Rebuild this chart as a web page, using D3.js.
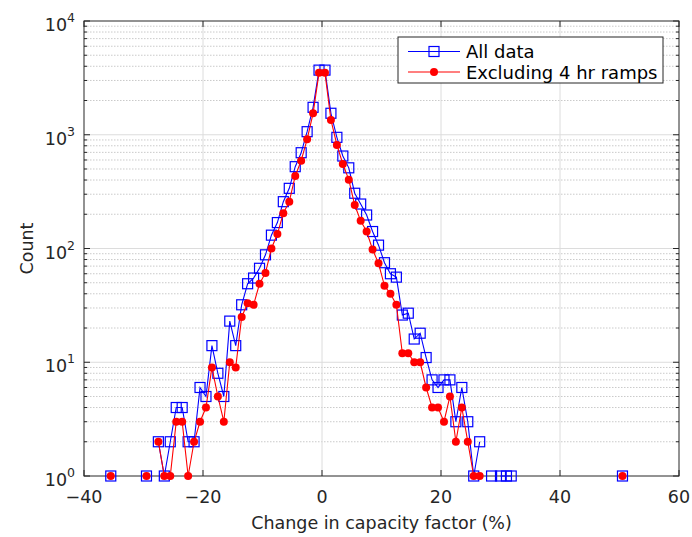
<!DOCTYPE html>
<html>
<head>
<meta charset="utf-8">
<script src="https://cdn.jsdelivr.net/npm/d3@7"></script>
<style>
  body { margin: 0; background: #fff; }
  svg { display: block; font-family: "DejaVu Sans", sans-serif; }
</style>
</head>
<body>
<svg id="chart" width="692" height="537"></svg>
<script>
// bin centres (%) and counts
const allBins = [-35.5, -29.5, -27.5, -26.5, -25.5, -24.5, -23.5, -22.5, -21.5, -20.5, -19.5, -18.5, -17.5, -16.5,
  -15.5, -14.5, -13.5, -12.5, -11.5, -10.5, -9.5, -8.5, -7.5, -6.5, -5.5, -4.5, -3.5, -2.5, -1.5, -0.5,
  0.5, 1.5, 2.5, 3.5, 4.5, 5.5, 6.5, 7.5, 8.5, 9.5, 10.5, 11.5, 12.5, 13.5, 14.5, 15.5, 16.5, 17.5,
  18.5, 19.5, 20.5, 21.5, 22.5, 23.5, 24.5, 25.5, 26.5, 28.5, 30, 31, 31.8, 50.5];
const allCounts = [1, 1, 2, 1, 2, 4, 4, 2, 2, 6, 5, 14, 8, 5,
  23, 14, 32, 49, 55, 67, 88, 131, 169, 258, 338, 524, 695, 1064, 1742, 3700,
  3700, 1545, 949, 650, 512, 306, 246, 197, 141, 107, 75, 60, 56, 26, 27, 16, 18, 11,
  7, 6, 7, 7, 3, 6, 3, 1, 2, 1, 1, 1, 1, 1];

const exclBins = [-35.5, -29.5, -27.5, -26.5, -25.5, -24.5, -23.5, -22.5, -21.5, -20.5, -19.5, -18.5, -17.5, -16.5,
  -15.5, -14.5, -13.5, -12.5, -11.5, -10.5, -9.5, -8.5, -7.5, -6.5, -5.5, -4.5, -3.5, -2.5, -1.5, -0.5,
  0.5, 1.5, 2.5, 3.5, 4.5, 5.5, 6.5, 7.5, 8.5, 9.5, 10.5, 11.5, 12.5, 13.5, 14.5, 15.5, 16.5, 17.5,
  18.5, 19.5, 20.5, 21.5, 22.5, 23.5, 24.5, 25.5, 26.5, 50.5];
const exclCounts = [1, 1, 2, 1, 1, 3, 3, 1, 2, 3, 4, 9, 5, 3,
  10, 9, 25, 33, 32, 49, 61, 100, 134, 204, 258, 434, 592, 912, 1544, 3500,
  3500, 1348, 813, 553, 403, 241, 175, 141, 98, 74, 47, 40, 32, 12, 12, 10, 10, 6,
  4, 4, 3, 5, 2, 4, 2, 1, 1, 1];

const xTicks = [-40, -20, 0, 20, 40, 60];
const yTicks = [1, 10, 100, 1000, 10000];
const seriesNames = ['All data', 'Excluding 4 hr ramps'];

const svg = d3.select('#chart');
const pl = 84, pr = 679, pt = 21, pb = 476;
const x = d3.scaleLinear().domain([-40, 60]).range([pl, pr]);
const y = d3.scaleLog().domain([1, 10000]).range([pb, pt]);
const axisColor = '#262626';

// grid
const grid = svg.append('g');
const minorVals = [];
yTicks.slice(0, -1).forEach(d => { for (let k = 2; k <= 9; k++) minorVals.push(d * k); });
grid.selectAll('.minor').data(minorVals).enter().append('line')
  .attr('x1', pl).attr('x2', pr)
  .attr('y1', d => y(d)).attr('y2', d => y(d))
  .attr('stroke', '#bdbdbd').attr('stroke-width', 0.8).attr('stroke-dasharray', '1.5,1.5');
grid.selectAll('.hmaj').data(yTicks.slice(1, -1)).enter().append('line')
  .attr('x1', pl).attr('x2', pr)
  .attr('y1', d => y(d)).attr('y2', d => y(d))
  .attr('stroke', '#dcdcdc').attr('stroke-width', 1);
grid.selectAll('.vmaj').data(xTicks.slice(1, -1)).enter().append('line')
  .attr('x1', d => x(d)).attr('x2', d => x(d))
  .attr('y1', pt).attr('y2', pb)
  .attr('stroke', '#dcdcdc').attr('stroke-width', 1);

// ticks (inward, on all four sides)
const ticks = svg.append('g').attr('stroke', axisColor).attr('stroke-width', 1);
xTicks.forEach(d => {
  ticks.append('line').attr('x1', x(d)).attr('x2', x(d)).attr('y1', pb).attr('y2', pb - 6);
  ticks.append('line').attr('x1', x(d)).attr('x2', x(d)).attr('y1', pt).attr('y2', pt + 6);
});
yTicks.forEach(d => {
  ticks.append('line').attr('x1', pl).attr('x2', pl + 6).attr('y1', y(d)).attr('y2', y(d));
  ticks.append('line').attr('x1', pr).attr('x2', pr - 6).attr('y1', y(d)).attr('y2', y(d));
});
minorVals.forEach(d => {
  ticks.append('line').attr('x1', pl).attr('x2', pl + 3).attr('y1', y(d)).attr('y2', y(d));
  ticks.append('line').attr('x1', pr).attr('x2', pr - 3).attr('y1', y(d)).attr('y2', y(d));
});

svg.append('rect').attr('x', pl).attr('y', pt)
  .attr('width', pr - pl).attr('height', pb - pt)
  .attr('fill', 'none').attr('stroke', axisColor).attr('stroke-width', 1);

// tick labels
svg.selectAll('.xl').data(xTicks).enter().append('text')
  .attr('x', d => x(d)).attr('y', pb + 27)
  .attr('text-anchor', 'middle').attr('font-size', 17.5).attr('fill', axisColor)
  .text(d => d < 0 ? '\u2212' + Math.abs(d) : d);

const yl = svg.selectAll('.yl').data(yTicks).enter().append('text')
  .attr('y', d => y(d) + 10).attr('font-size', 17.5).attr('fill', axisColor)
  .attr('text-anchor', 'end').attr('x', 75);
yl.append('tspan').text('10');
yl.append('tspan').attr('font-size', 12.5).attr('dy', -9).text(d => Math.round(Math.log10(d)));

// axis titles
svg.append('text').attr('x', (pl + pr) / 2).attr('y', pb + 53)
  .attr('text-anchor', 'middle').attr('font-size', 17.5).attr('fill', axisColor)
  .text('Change in capacity factor (%)');
svg.append('text').attr('transform', `translate(33,${(pt + pb) / 2}) rotate(-90)`)
  .attr('text-anchor', 'middle').attr('font-size', 17.5).attr('fill', axisColor)
  .text('Count');

// split series where bins are missing (zero counts are not drawn on a log axis)
function segments(bins, counts) {
  const out = [];
  let cur = [];
  bins.forEach((b, i) => {
    if (cur.length && b - cur[cur.length - 1].b > 1.01) { out.push(cur); cur = []; }
    cur.push({ b: b, c: counts[i] });
  });
  out.push(cur);
  return out;
}
const line = d3.line().x(d => x(d.b)).y(d => y(d.c));

const plot = svg.append('g');
const allData = allBins.map((b, i) => ({ b: b, c: allCounts[i] }));
const exclData = exclBins.map((b, i) => ({ b: b, c: exclCounts[i] }));

plot.selectAll('.segA').data(segments(allBins, allCounts)).enter().append('path')
  .attr('d', line).attr('fill', 'none').attr('stroke', '#0000ff').attr('stroke-width', 1.1);
plot.selectAll('.ptA').data(allData).enter().append('rect')
  .attr('x', d => x(d.b) - 5).attr('y', d => y(d.c) - 5)
  .attr('width', 10).attr('height', 10)
  .attr('fill', 'none').attr('stroke', '#0000ff').attr('stroke-width', 1.2);

plot.selectAll('.segE').data(segments(exclBins, exclCounts)).enter().append('path')
  .attr('d', line).attr('fill', 'none').attr('stroke', '#ff0000').attr('stroke-width', 1.1);
plot.selectAll('.ptE').data(exclData).enter().append('circle')
  .attr('cx', d => x(d.b)).attr('cy', d => y(d.c)).attr('r', 4)
  .attr('fill', '#ff0000');

// legend
const lg = svg.append('g').attr('transform', 'translate(398,37)');
lg.append('rect').attr('width', 265).attr('height', 46)
  .attr('fill', '#fff').attr('stroke', axisColor).attr('stroke-width', 1);
const rowY = [14.5, 35];
lg.append('line').attr('x1', 10).attr('x2', 62).attr('y1', rowY[0]).attr('y2', rowY[0])
  .attr('stroke', '#0000ff').attr('stroke-width', 1.1);
lg.append('rect').attr('x', 31).attr('y', rowY[0] - 5).attr('width', 10).attr('height', 10)
  .attr('fill', 'none').attr('stroke', '#0000ff').attr('stroke-width', 1.2);
lg.append('line').attr('x1', 10).attr('x2', 62).attr('y1', rowY[1]).attr('y2', rowY[1])
  .attr('stroke', '#ff0000').attr('stroke-width', 1.1);
lg.append('circle').attr('cx', 36).attr('cy', rowY[1]).attr('r', 4).attr('fill', '#ff0000');
lg.selectAll('.lt').data(seriesNames).enter().append('text')
  .attr('x', 68).attr('y', (d, i) => rowY[i] + 6.5)
  .attr('font-size', 18).attr('fill', '#000')
  .text(d => d);
</script>
</body>
</html>
